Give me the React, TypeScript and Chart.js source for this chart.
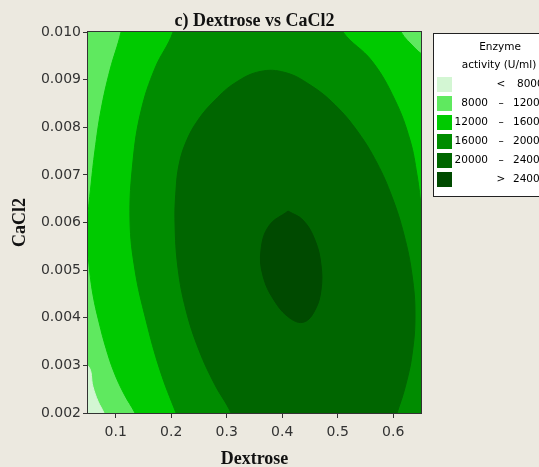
import React, { useEffect, useRef } from 'react';
import { Chart, registerables } from 'chart.js';

Chart.register(...registerables);

type Pt = [number, number];

// ---- text ----
const chartTitle = 'c) Dextrose vs CaCl2';
const xTitle = 'Dextrose';
const yTitle = 'CaCl2';
const legendTitle = ['Enzyme', 'activity (U/ml)'];

// ---- ticks ----
const xTicks = [0.1, 0.2, 0.3, 0.4, 0.5, 0.6];
const yTicks = [0.002, 0.003, 0.004, 0.005, 0.006, 0.007, 0.008, 0.009, 0.01];
const xRange: Pt = [0.05, 0.65];
const yRange: Pt = [0.002, 0.01];

// ---- legend levels ----
const levelLow = ['', '8000', '12000', '16000', '20000', ''];
const levelSep = ['<', '–', '–', '–', '–', '>'];
const levelHigh = ['8000', '12000', '16000', '20000', '24000', '24000'];
const levelColors = ['#D3F6D3', '#5FE95F', '#00CA00', '#008C00', '#006600', '#004A00'];

// ---- contour regions (Dextrose, CaCl2) ----
const plotDomain: Pt[] = [
  [0.04, 0.0018], [0.66, 0.0018], [0.66, 0.0102], [0.04, 0.0102],
];
const below8000: Pt[] = [
  [0.0176, 0.00311], [0.05, 0.00299], [0.059, 0.00255], [0.068, 0.00225],
  [0.0788, 0.002], [0.0896, 0.00164], [0.0176, 0.00164],
];
const above12000: Pt[] = [
  [0.1149, 0.01046], [0.1095, 0.01], [0.0896, 0.0092], [0.0734, 0.00836],
  [0.0626, 0.00752], [0.0554, 0.00679], [0.05, 0.00616], [0.0482, 0.00563],
  [0.0518, 0.00511], [0.059, 0.00448], [0.0698, 0.00391], [0.0824, 0.00336],
  [0.0968, 0.00286], [0.1149, 0.0024], [0.1347, 0.002], [0.1491, 0.00164],
  [0.1617, 0.00133], [0.6842, 0.00133], [0.6842, 0.0091], [0.6392, 0.00966],
  [0.614, 0.01], [0.6032, 0.01036],
];
const above16000: Pt[] = [
  [0.2068, 0.01046], [0.2032, 0.01], [0.1707, 0.00924], [0.1455, 0.00834],
  [0.1311, 0.00729], [0.1257, 0.00605], [0.1347, 0.005], [0.1545, 0.00395],
  [0.1797, 0.0029], [0.2086, 0.002], [0.2248, 0.00154], [0.6842, 0.00143],
  [0.6842, 0.00521], [0.6626, 0.00563], [0.6518, 0.00626], [0.6428, 0.007],
  [0.6302, 0.00773], [0.6032, 0.00857], [0.5617, 0.00939], [0.5094, 0.01],
  [0.495, 0.01046],
];
const above20000: Pt[] = [
  [0.3239, 0.00143], [0.3077, 0.002], [0.2788, 0.00259], [0.25, 0.00332],
  [0.2266, 0.00416], [0.2122, 0.00504], [0.2068, 0.00599], [0.2086, 0.00668],
  [0.214, 0.00721], [0.2266, 0.00769], [0.2482, 0.00815], [0.2788, 0.00857],
  [0.3149, 0.00893], [0.3599, 0.00917], [0.405, 0.00915], [0.45, 0.00889],
  [0.495, 0.00847], [0.5365, 0.0079], [0.5707, 0.00725], [0.5977, 0.00654],
  [0.6194, 0.00574], [0.6338, 0.0049], [0.6392, 0.00406], [0.6338, 0.00322],
  [0.6212, 0.00253], [0.6068, 0.002], [0.5941, 0.00154],
];
const above24000: Pt[] = [
  [0.4104, 0.00624], [0.4374, 0.00605], [0.459, 0.00563], [0.4698, 0.00511],
  [0.4698, 0.00458], [0.459, 0.00416], [0.4392, 0.00391], [0.414, 0.00399],
  [0.3851, 0.00437], [0.3653, 0.00488], [0.3617, 0.00542], [0.3761, 0.00593],
  [0.4104, 0.00624],
];

const BG = '#ECE9E0';

export default function App() {
  const ref = useRef<HTMLCanvasElement | null>(null);

  useEffect(() => {
    document.body.style.margin = '0';
    document.body.style.background = BG;
    const canvas = ref.current;
    if (!canvas) return;

    const layers = [
      { pts: plotDomain, color: levelColors[1], tension: 0 },
      { pts: below8000, color: levelColors[0], tension: 0.4 },
      { pts: above12000, color: levelColors[2], tension: 0.4 },
      { pts: above16000, color: levelColors[3], tension: 0.4 },
      { pts: above20000, color: levelColors[4], tension: 0.4 },
      { pts: above24000, color: levelColors[5], tension: 0.4 },
    ];

    const datasets = layers.map((l, i) => ({
      data: l.pts.map(([x, y]) => ({ x, y })),
      showLine: true,
      fill: 'shape',
      backgroundColor: l.color,
      borderColor: l.color,
      borderWidth: 1,
      pointRadius: 0,
      pointHoverRadius: 0,
      tension: l.tension,
      order: layers.length - i,
    }));

    const bgPlugin = {
      id: 'bg',
      beforeDraw(chart: any) {
        const ctx = chart.ctx;
        ctx.save();
        ctx.fillStyle = BG;
        ctx.fillRect(0, 0, chart.width, chart.height);
        ctx.restore();
      },
    };

    const framePlugin = {
      id: 'frame',
      afterDatasetsDraw(chart: any) {
        const { ctx, chartArea: a } = chart;
        ctx.save();
        ctx.strokeStyle = '#333';
        ctx.lineWidth = 1;
        ctx.strokeRect(a.left - 0.5, a.top - 0.5, a.right - a.left + 1, a.bottom - a.top + 1);
        ctx.restore();
      },
    };

    const titlePlugin = {
      id: 'ttl',
      afterDraw(chart: any) {
        const { ctx, chartArea: a } = chart;
        ctx.save();
        ctx.fillStyle = '#111';
        ctx.font = 'bold 18px "Liberation Serif"';
        ctx.textAlign = 'center';
        ctx.textBaseline = 'alphabetic';
        ctx.fillText(chartTitle, (a.left + a.right) / 2, 26);
        ctx.restore();
      },
    };

    const legendPlugin = {
      id: 'lgd',
      afterDraw(chart: any) {
        const ctx = chart.ctx;
        ctx.save();
        const bx = 433, by = 33, bw = 140, bh = 163;
        ctx.fillStyle = '#FFFFFF';
        ctx.fillRect(bx, by, bw, bh);
        ctx.strokeStyle = '#222';
        ctx.lineWidth = 1;
        ctx.strokeRect(bx + 0.5, by + 0.5, bw, bh);
        ctx.fillStyle = '#000';
        ctx.font = '10.5px "DejaVu Sans"';
        ctx.textBaseline = 'middle';
        ctx.textAlign = 'center';
        ctx.fillText(legendTitle[0], 500, 47);
        ctx.fillText(legendTitle[1], 499, 65);
        for (let i = 0; i < levelColors.length; i++) {
          const top = 77 + i * 19;
          const cy = top + 7.5;
          ctx.fillStyle = levelColors[i];
          ctx.fillRect(437, top, 15, 15);
          ctx.fillStyle = '#000';
          ctx.textAlign = 'right';
          if (levelLow[i]) ctx.fillText(levelLow[i], 488, cy);
          ctx.textAlign = 'center';
          ctx.fillText(levelSep[i], 501, cy);
          ctx.textAlign = 'left';
          ctx.fillText(levelHigh[i], levelHigh[i].length === 4 ? 517 : 513, cy);
        }
        ctx.restore();
      },
    };

    const tickFont = { family: 'DejaVu Sans', size: 14 };
    const titleFont = { family: 'Liberation Serif', size: 18, weight: 'bold' as const };

    const chart = new Chart(canvas, {
      type: 'scatter',
      data: { datasets: datasets as any },
      options: {
        animation: false,
        responsive: false,
        devicePixelRatio: 1,
        events: [],
        layout: { padding: { left: 0, top: 32, right: 118, bottom: 0 } },
        plugins: { legend: { display: false }, tooltip: { enabled: false }, title: { display: false } },
        scales: {
          x: {
            type: 'linear',
            min: xRange[0],
            max: xRange[1],
            afterBuildTicks: (s: any) => { s.ticks = xTicks.map((v) => ({ value: v })); },
            afterFit: (s: any) => { s.height = 54; },
            ticks: {
              callback: (v: any) => Number(v).toFixed(1),
              font: tickFont,
              color: '#333',
              padding: 6,
              maxRotation: 0,
              autoSkip: false,
            },
            grid: { drawOnChartArea: false, drawTicks: true, tickLength: 5, color: '#333' },
            border: { display: false },
            title: { display: true, text: xTitle, font: titleFont, color: '#111', padding: { top: 0, bottom: -3 } },
          },
          y: {
            type: 'linear',
            min: yRange[0],
            max: yRange[1],
            afterBuildTicks: (s: any) => { s.ticks = yTicks.map((v) => ({ value: v })); },
            afterFit: (s: any) => { s.width = 88; },
            ticks: {
              callback: (v: any) => Number(v).toFixed(3),
              font: tickFont,
              color: '#333',
              padding: 2,
              autoSkip: false,
            },
            grid: { drawOnChartArea: false, drawTicks: true, tickLength: 5, color: '#333' },
            border: { display: false },
            title: { display: true, text: yTitle, font: titleFont, color: '#111', padding: { top: 10, bottom: 0 } },
          },
        },
      },
      plugins: [bgPlugin, framePlugin, titlePlugin, legendPlugin],
    } as any);

    return () => chart.destroy();
  }, []);

  return (
    <div style={{ width: 539, height: 467, background: BG }}>
      <canvas ref={ref} width={539} height={467} style={{ display: 'block' }} />
    </div>
  );
}
